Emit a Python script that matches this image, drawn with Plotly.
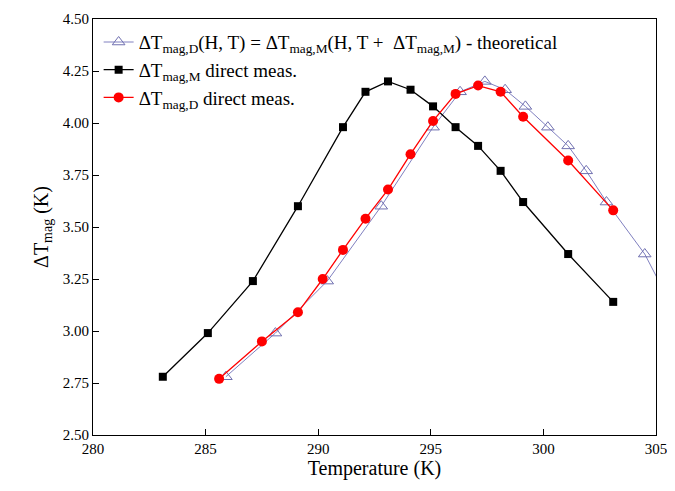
import plotly.graph_objects as go

# direct measurement of dT_mag,M
t_m = [283.1, 285.1, 287.1, 289.1, 291.1, 292.1, 293.1, 294.1, 295.1, 296.1, 297.1, 298.1, 299.1, 301.1, 303.1]
dt_m = [2.78, 2.99, 3.24, 3.60, 3.98, 4.15, 4.20, 4.16, 4.08, 3.98, 3.89, 3.77, 3.62, 3.37, 3.14]

# direct measurement of dT_mag,D
t_d = [285.6, 287.5, 289.1, 290.2, 291.1, 292.1, 293.1, 294.1, 295.1, 296.1, 297.1, 298.1, 299.1, 301.1, 303.1]
dt_d = [2.77, 2.95, 3.09, 3.25, 3.39, 3.54, 3.68, 3.85, 4.01, 4.14, 4.18, 4.15, 4.03, 3.82, 3.58]

# theoretical
t_th = [285.9, 288.1, 290.4, 292.8, 295.1, 296.3, 297.4, 298.3, 299.2, 300.2, 301.1, 301.9, 302.8, 304.5, 305.6]
dt_th = [2.78, 2.99, 3.24, 3.60, 3.98, 4.15, 4.20, 4.16, 4.08, 3.98, 3.89, 3.77, 3.62, 3.37, 3.14]

font = "Liberation Serif"
fig = go.Figure()
fig.add_trace(go.Scatter(
    x=t_th, y=dt_th, mode="lines+markers",
    name="ΔT<sub>mag,D</sub>(H, T) = ΔT<sub>mag,M</sub>(H, T +  ΔT<sub>mag,M</sub>) - theoretical",
    line=dict(color="#8080c0", width=1),
    marker=dict(symbol="triangle-up-open", size=11, color="#7070b0")))
fig.add_trace(go.Scatter(
    x=t_m, y=dt_m, mode="lines+markers", name="ΔT<sub>mag,M</sub> direct meas.",
    line=dict(color="black", width=1.3),
    marker=dict(symbol="square", size=8, color="black")))
fig.add_trace(go.Scatter(
    x=t_d, y=dt_d, mode="lines+markers", name="ΔT<sub>mag,D</sub> direct meas.",
    line=dict(color="red", width=1.3),
    marker=dict(symbol="circle", size=10, color="red")))

ax = dict(showline=True, linecolor="black", linewidth=1, mirror=True, ticks="inside",
          ticklen=6, tickcolor="black", showgrid=False, zeroline=False, automargin=False,
          tickfont=dict(size=15, family=font, color="black"))
fig.update_layout(
    width=675, height=491, plot_bgcolor="white", paper_bgcolor="white",
    margin=dict(l=85, r=27, t=11, b=64),
    font=dict(family=font, color="black"),
    xaxis=dict(ax, range=[280, 305], dtick=5,
               title=dict(text="Temperature (K)", font=dict(size=20), standoff=4)),
    yaxis=dict(ax, range=[2.5, 4.5], dtick=0.25, tickformat=".2f",
               title=dict(text="ΔT<sub>mag</sub> (K)", font=dict(size=20), standoff=8)),
    legend=dict(x=0.01, y=0.99, xanchor="left", yanchor="top", bgcolor="rgba(255,255,255,0)",
                font=dict(size=19, family=font), tracegroupgap=0),
    showlegend=True)
fig.write_html("out.html")
